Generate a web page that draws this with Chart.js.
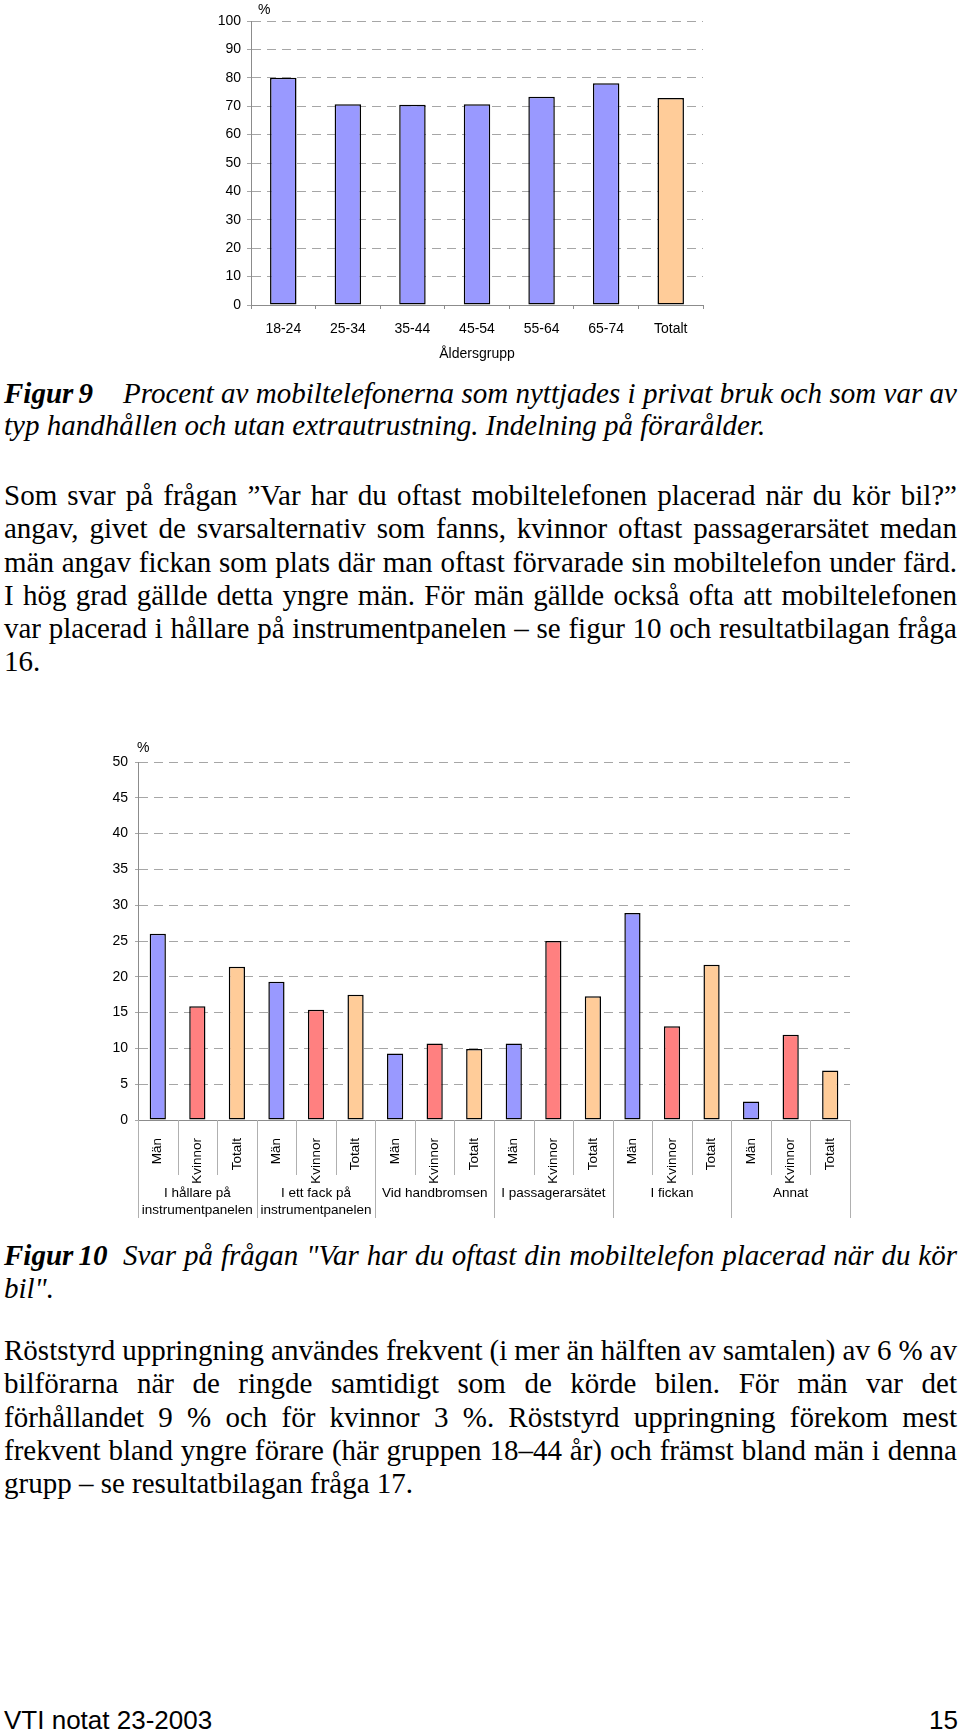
<!DOCTYPE html>
<html lang="sv">
<head>
<meta charset="utf-8">
<script src="https://cdn.jsdelivr.net/npm/chart.js@4.4.1/dist/chart.umd.min.js"></script>
<style>
  html, body { margin: 0; padding: 0; background: #fff; }
  body { width: 960px; height: 1731px; position: relative; overflow: hidden; }
  canvas { position: absolute; }
  .txt { position: absolute; left: 4px; width: 953px; font-family: "Liberation Serif", "Times New Roman", serif; font-size: 29px; color: #000; }
  .txt div { text-align: justify; text-align-last: justify; word-spacing: -2px; }
  .txt div.last { text-align-last: left; word-spacing: 0; }
  .cap { font-style: italic; line-height: 32px; }
  .cap b { display: inline-block; width: 119px; text-align: left; text-align-last: left; }
  .para { line-height: 33.3px; }
  .foot { position: absolute; top: 1708px; font-family: "Liberation Sans", Arial, sans-serif; font-size: 26px; line-height: 25px; }
</style>
</head>
<body>

<canvas id="ageChart" width="530" height="370" style="left:190px; top:0px;"></canvas>

<div class="txt cap" style="top:377px;">
  <div><b>Figur 9</b>Procent av mobiltelefonerna som nyttjades i privat bruk och som var av</div>
  <div class="last">typ handhållen och utan extrautrustning. Indelning på förarålder.</div>
</div>

<div class="txt para" style="top:479px;">
  <div>Som svar på frågan ”Var har du oftast mobiltelefonen placerad när du kör bil?”</div>
  <div>angav, givet de svarsalternativ som fanns, kvinnor oftast passagerarsätet medan</div>
  <div>män angav fickan som plats där man oftast förvarade sin mobiltelefon under färd.</div>
  <div>I hög grad gällde detta yngre män. För män gällde också ofta att mobiltelefonen</div>
  <div>var placerad i hållare på instrumentpanelen – se figur 10 och resultatbilagan fråga</div>
  <div class="last">16.</div>
</div>

<canvas id="placeChart" width="800" height="500" style="left:60px; top:730px;"></canvas>

<div class="txt cap" style="top:1239px; line-height:33px;">
  <div><b>Figur 10</b>Svar på frågan "Var har du oftast din mobiltelefon placerad när du kör</div>
  <div class="last">bil".</div>
</div>

<div class="txt para" style="top:1334px;">
  <div>Röststyrd uppringning användes frekvent (i mer än hälften av samtalen) av 6 % av</div>
  <div>bilförarna när de ringde samtidigt som de körde bilen. För män var det</div>
  <div>förhållandet 9 % och för kvinnor 3 %. Röststyrd uppringning förekom mest</div>
  <div>frekvent bland yngre förare (här gruppen 18–44 år) och främst bland män i denna</div>
  <div class="last">grupp – se resultatbilagan fråga 17.</div>
</div>

<div class="foot" style="left:4px;">VTI notat 23-2003</div>
<div class="foot" style="left:929px;">15</div>

<script>
// Figur 9 - andel handhållna mobiler per åldersgrupp
const ageGroups = ['18-24', '25-34', '35-44', '45-54', '55-64', '65-74', 'Totalt'];
const ageValues = [80.0, 70.7, 70.5, 70.7, 73.3, 78.1, 72.9];

// Figur 10 - var mobilen oftast placeras
const places = [
    ['I hållare på', 'instrumentpanelen'],
    ['I ett fack på', 'instrumentpanelen'],
    'Vid handbromsen',
    'I passagerarsätet',
    'I fickan',
    'Annat'
];
const genders = ['Män', 'Kvinnor', 'Totalt'];
const menValues   = [26.0, 19.3, 9.3, 10.7, 28.9, 2.6];
const womenValues = [15.9, 15.4, 10.7, 25.0, 13.1, 11.9];
const totalValues = [21.4, 17.5, 9.9, 17.3, 21.7, 6.9];

const blue = '#9999ff';
const red = '#ff8080';
const peach = '#ffcc99';
const gridGrey = '#a6a6a6';
const axisGrey = '#8c8c8c';

Chart.defaults.font.family = '"Liberation Sans", Arial, sans-serif';
Chart.defaults.color = '#000';

const percentSign = {
    id: 'percentSign',
    afterDraw(chart, args, opts) {
        const { ctx, chartArea } = chart;
        ctx.save();
        ctx.font = '14px "Liberation Sans", Arial, sans-serif';
        ctx.fillStyle = '#000';
        ctx.textAlign = 'left';
        ctx.textBaseline = 'middle';
        ctx.fillText('%', chartArea.left + opts.dx, chartArea.top + opts.dy);
        ctx.restore();
    }
};

function rendercharts() {
    const ctx = document.getElementById('ageChart');

    new Chart(ctx, {
        type: 'bar',
        data: {
            labels: ageGroups,
            datasets: [{
                data: ageValues,
                backgroundColor: ageGroups.map(g => g === 'Totalt' ? peach : blue),
                borderColor: '#000',
                borderWidth: 1.5,
                borderSkipped: false,
                categoryPercentage: 1,
                barPercentage: 0.41
            }]
        },
        options: {
            responsive: false,
            animation: false,
            layout: { padding: { top: 21, right: 17, bottom: 0, left: 0 } },
            plugins: {
                legend: { display: false },
                tooltip: { enabled: false },
                percentSign: { dx: 7, dy: -11 }
            },
            scales: {
                x: {
                    afterFit: s => { s.height = 65; },
                    grid: { display: true, drawOnChartArea: false, tickLength: 4, tickColor: axisGrey },
                    border: { color: axisGrey, width: 1 },
                    ticks: { font: { size: 14 }, padding: 12 },
                    title: { display: true, text: 'Åldersgrupp', font: { size: 14 }, padding: { top: 0, bottom: 7 } }
                },
                y: {
                    min: 0,
                    max: 100,
                    afterFit: s => { s.width = 61; },
                    ticks: { stepSize: 10, font: { size: 14 }, padding: 6 },
                    grid: { color: gridGrey, tickLength: 4, tickColor: gridGrey },
                    border: { color: axisGrey, width: 1, dash: [9, 6] }
                }
            }
        },
        plugins: [percentSign]
    });


    const ctx2 = document.getElementById('placeChart');

    const labels = [];
    const values = [];
    const colors = [];
    const series = [menValues, womenValues, totalValues];
    places.forEach((p, g) => {
        genders.forEach((name, k) => {
            labels.push(name);
            values.push(series[k][g]);
            colors.push([blue, red, peach][k]);
        });
    });

    // separators and group names under the category labels
    const groupAxis = {
        id: 'groupAxis',
        afterDraw(chart) {
            const { ctx, chartArea } = chart;
            const x = chart.scales.x;
            const n = labels.length;
            const half = (x.getPixelForValue(1) - x.getPixelForValue(0)) / 2;
            const bottom = chartArea.bottom;

            ctx.save();
            ctx.strokeStyle = '#b0b0b0';
            ctx.lineWidth = 1;
            for (let i = 0; i <= n; i++) {
                const px = i < n ? x.getPixelForValue(i) - half : x.getPixelForValue(n - 1) + half;
                const end = i % genders.length === 0 ? bottom + 98 : bottom + 55;
                const sx = Math.round(px) + 0.5;
                ctx.beginPath();
                ctx.moveTo(sx, bottom);
                ctx.lineTo(sx, end);
                ctx.stroke();
            }

            ctx.fillStyle = '#000';
            ctx.font = '13.5px "Liberation Sans", Arial, sans-serif';
            ctx.textAlign = 'center';
            ctx.textBaseline = 'middle';
            places.forEach((p, g) => {
                const first = g * genders.length;
                const cx = (x.getPixelForValue(first) + x.getPixelForValue(first + genders.length - 1)) / 2;
                [].concat(p).forEach((line, k) => {
                    ctx.fillText(line, cx, bottom + 73 + k * 17);
                });
            });
            ctx.restore();
        }
    };

    new Chart(ctx2, {
        type: 'bar',
        data: {
            labels: labels,
            datasets: [{
                data: values,
                backgroundColor: colors,
                borderColor: '#000',
                borderWidth: 1.5,
                borderSkipped: false,
                categoryPercentage: 1,
                barPercentage: 0.41
            }]
        },
        options: {
            responsive: false,
            animation: false,
            layout: { padding: { top: 32, right: 10, bottom: 0, left: 0 } },
            plugins: {
                legend: { display: false },
                tooltip: { enabled: false },
                percentSign: { dx: -1, dy: -14 }
            },
            scales: {
                x: {
                    afterFit: s => { s.height = 110; },
                    grid: { display: false },
                    border: { color: axisGrey, width: 1 },
                    ticks: { font: { size: 13.5 }, padding: 10, minRotation: 90, maxRotation: 90, autoSkip: false }
                },
                y: {
                    min: 0,
                    max: 50,
                    afterFit: s => { s.width = 78; },
                    ticks: { stepSize: 5, font: { size: 14 }, padding: 7 },
                    grid: { color: gridGrey, tickLength: 3, tickColor: gridGrey },
                    border: { color: axisGrey, width: 1, dash: [9, 6] }
                }
            }
        },
        plugins: [percentSign, groupAxis]
    });
}

rendercharts();
</script>
</body>
</html>
